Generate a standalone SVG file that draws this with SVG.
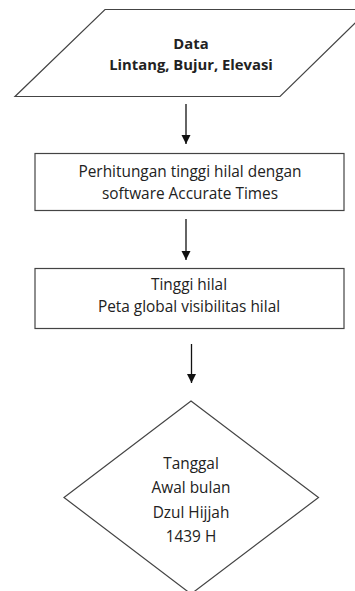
<svg xmlns="http://www.w3.org/2000/svg" width="355" height="591" viewBox="0 0 355 591">
<defs>
<style>
.shape{fill:#fff;stroke:#444;stroke-width:1.2}
.t{font-family:"Open Sans","Liberation Sans",sans-serif;font-size:15.4px;fill:#222;text-anchor:middle}
.b{font-weight:bold;font-size:14.8px}
.c{stroke:#111;stroke-width:1.3;fill:none;marker-end:url(#ah)}
</style>
<marker id="ah" viewBox="0 0 10 10" refX="10" refY="5" markerWidth="9" markerHeight="10" markerUnits="userSpaceOnUse" orient="auto">
<path d="M0,0 L10,5 L0,10 Z" fill="#111"/>
</marker>
</defs>
<rect width="355" height="591" fill="#fff"/>
<g id="connectors">
<line class="c" x1="186" y1="104" x2="186" y2="144"/>
<line class="c" x1="186" y1="219" x2="186" y2="260"/>
<line class="c" x1="191.5" y1="344" x2="191.5" y2="383"/>
</g>
<g id="n1">
<polygon class="shape" points="105,9.5 369,9.5 280,96.5 15,96.5"/>
<text class="t b" x="191" y="49">Data</text>
<text class="t b" x="191" y="70">Lintang, Bujur, Elevasi</text>
</g>
<g id="n2">
<rect class="shape" x="35" y="153.5" width="309" height="57"/>
<text class="t" x="190" y="177">Perhitungan tinggi hilal dengan</text>
<text class="t" x="190" y="199">software Accurate Times</text>
</g>
<g id="n3">
<rect class="shape" x="35" y="268.5" width="309" height="60"/>
<text class="t" x="189" y="290">Tinggi hilal</text>
<text class="t" x="189" y="311.5">Peta global visibilitas hilal</text>
</g>
<g id="n4">
<polygon class="shape" points="191,401 318.5,497.5 191,594 64,497.5"/>
<text class="t" x="191" y="469">Tanggal</text>
<text class="t" x="191" y="493">Awal bulan</text>
<text class="t" x="191" y="517.5">Dzul Hijjah</text>
<text class="t" x="191" y="541.5">1439 H</text>
</g>
</svg>
